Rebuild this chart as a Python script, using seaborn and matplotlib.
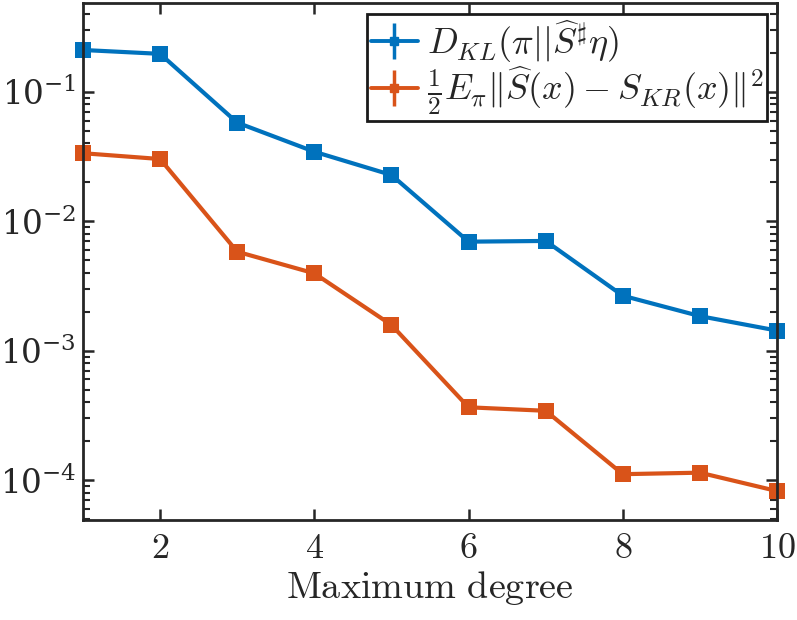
import numpy as np
import pandas as pd
import matplotlib
matplotlib.use("Agg")
import matplotlib.pyplot as plt
import seaborn as sns

# ---- data ----
degrees = [1, 2, 3, 4, 5, 6, 7, 8, 9, 10]
kl_values = [0.211, 0.197, 0.0579, 0.0345, 0.0228, 0.00696, 0.00705, 0.00266, 0.00185, 0.00143]
mse_values = [0.0336, 0.0303, 0.00582, 0.00396, 0.00158, 0.000365, 0.000343, 0.000111, 0.000114, 0.0000822]
series_labels = [r'$D_{KL}(\pi||\widehat{S}^{\sharp}\eta)$',
                 r'$\frac{1}{2}E_{\pi}\|\widehat{S}(x)-S_{KR}(x)\|^2$']
x_ticks = [2, 4, 6, 8, 10]
x_label = r'$\mathrm{Maximum\ degree}$'

colors = ["#0072BD", "#D95319"]

sns.set_theme(style="ticks")
plt.rcParams['mathtext.fontset'] = 'cm'
plt.rcParams['font.family'] = ['DejaVu Serif']
plt.rcParams['axes.unicode_minus'] = True

df = pd.DataFrame({
    "degree": degrees * 2,
    "value": kl_values + mse_values,
    "series": [series_labels[0]] * len(degrees) + [series_labels[1]] * len(degrees),
})

W, H = 797, 620
fig = plt.figure(figsize=(W / 100, H / 100), dpi=100)
left, right, top, bottom = 83, 777, 3, 520
ax = fig.add_axes([left / W, 1 - bottom / H, (right - left) / W, (bottom - top) / H])

sns.lineplot(data=df, x="degree", y="value", hue="series", palette=colors,
             marker="s", markersize=11, markeredgewidth=0, linewidth=3.0,
             legend=False, ax=ax, clip_on=False)

ax.set_yscale("log")
ax.set_xlim(1, 10)
ax.set_ylim(4.91e-5, 0.487)
ax.set_xticks(x_ticks)
ax.set_xticklabels([f"${t}$" for t in x_ticks])
ax.set_xlabel(x_label, fontsize=27.5, labelpad=3)
ax.set_ylabel("")

for s in ax.spines.values():
    s.set_linewidth(2.0)
    s.set_color("#262626")
    s.set_visible(True)

ax.tick_params(axis="x", which="major", direction="in", length=8, width=1.8,
               labelsize=26, top=True, bottom=True, colors="#262626", labelcolor="#262626", pad=8)
ax.tick_params(axis="y", which="major", direction="in", length=8, width=1.8,
               labelsize=23.5, left=True, right=True, colors="#262626", labelcolor="#262626", pad=5)
ax.tick_params(axis="y", which="minor", direction="in", length=5, width=1.5,
               left=True, right=True, colors="#262626")
ax.tick_params(axis="x", which="minor", bottom=False, top=False)

# legend proxies (errorbar glyph, as in the reference)
handles = []
for c, lab in zip(colors, series_labels):
    h = ax.errorbar([], [], yerr=[], color=c, marker="s", markersize=6,
                    linewidth=2.8, elinewidth=2.5, capsize=5, capthick=2.5, label=lab)
    handles.append(h)

leg = ax.legend(handles=handles, labels=series_labels, loc="upper right",
                bbox_to_anchor=((767 - left) / (right - left), (bottom - 14) / (bottom - top)),
                borderaxespad=0, fontsize=26, frameon=True, fancybox=False, framealpha=1,
                handlelength=1.3, handletextpad=0.25, borderpad=0.1, labelspacing=0.0)
leg.get_frame().set_edgecolor("#1a1a1a")
leg.get_frame().set_linewidth(2.0)

fig.savefig("out.png", dpi=100)
